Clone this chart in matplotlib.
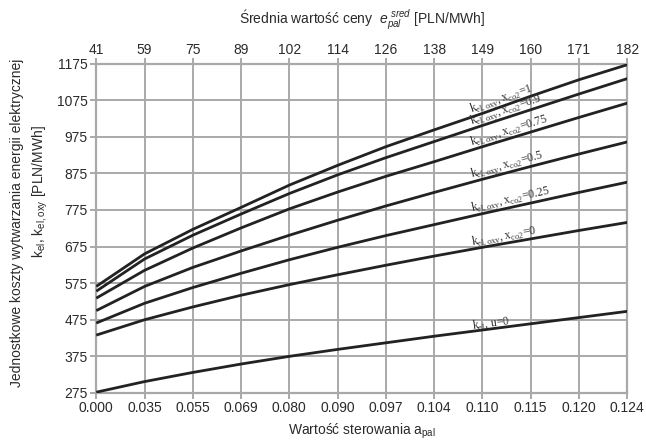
import matplotlib
matplotlib.use("Agg")
import matplotlib.pyplot as plt
import numpy as np

# sterowanie a_pal (kategorie osi dolnej) i odpowiadajace ceny (os gorna)
a_pal = ["0.000", "0.035", "0.055", "0.069", "0.080", "0.090",
         "0.097", "0.104", "0.110", "0.115", "0.120", "0.124"]
cena_sred = ["41", "59", "75", "89", "102", "114",
             "126", "138", "149", "160", "171", "182"]

k_oxy_x1 = [566, 655, 722, 782, 843, 897, 948, 994, 1039, 1086, 1131, 1172]
k_oxy_x09 = [553, 641, 706, 764, 820, 871, 918, 962, 1006, 1049, 1092, 1134]
k_oxy_x075 = [534, 610, 671, 726, 778, 824, 867, 907, 948, 988, 1028, 1067]
k_oxy_x05 = [500, 566, 618, 663, 706, 747, 786, 823, 859, 894, 928, 961]
k_oxy_x025 = [466, 520, 563, 602, 639, 673, 705, 735, 765, 794, 823, 851]
k_oxy_x0 = [433, 475, 510, 542, 571, 598, 624, 649, 673, 696, 719, 741]
k_el_u0 = [277, 306, 331, 354, 375, 394, 412, 430, 447, 464, 481, 498]

series = [
    (k_oxy_x1, r"k$_{\mathrm{el,oxy}}$, x$_{\mathrm{co2}}$=1"),
    (k_oxy_x09, r"k$_{\mathrm{el,oxy}}$, x$_{\mathrm{co2}}$=0.9"),
    (k_oxy_x075, r"k$_{\mathrm{el,oxy}}$, x$_{\mathrm{co2}}$=0.75"),
    (k_oxy_x05, r"k$_{\mathrm{el,oxy}}$, x$_{\mathrm{co2}}$=0.5"),
    (k_oxy_x025, r"k$_{\mathrm{el,oxy}}$, x$_{\mathrm{co2}}$=0.25"),
    (k_oxy_x0, r"k$_{\mathrm{el,oxy}}$, x$_{\mathrm{co2}}$=0"),
    (k_el_u0, r"k$_{\mathrm{el}}$, u=0"),
]

y_ticks = list(range(275, 1176, 100))

plt.rcParams["font.family"] = ["Liberation Sans", "DejaVu Sans"]
plt.rcParams["mathtext.fontset"] = "custom"
plt.rcParams["mathtext.rm"] = "Liberation Serif"
plt.rcParams["mathtext.it"] = "Liberation Sans:italic"
plt.rcParams["mathtext.sf"] = "Liberation Sans"

GRID = "#a9a9a9"
TXT = "#2a2a2a"

fig = plt.figure(figsize=(6.46, 4.45), dpi=100)
ax = fig.add_axes([0.149, 0.117, 0.822, 0.740])

x = np.arange(len(a_pal))
for values, _ in series:
    ax.plot(x, values, color="#222222", lw=2.0, solid_capstyle="butt", zorder=3)

ax.set_xlim(0, len(a_pal) - 1)
ax.set_ylim(275, 1175)
ax.set_xticks(x)
ax.set_xticklabels(a_pal)
ax.set_yticks(y_ticks)
ax.grid(True, color=GRID, lw=1.4)
ax.set_axisbelow(True)
for sp in ax.spines.values():
    sp.set_color(GRID)
    sp.set_linewidth(1.6)
ax.tick_params(colors=GRID, labelcolor=TXT, labelsize=10, length=4, width=1.4, pad=2)

top = ax.twiny()
top.set_xlim(ax.get_xlim())
top.set_xticks(x)
top.set_xticklabels(cena_sred)
top.tick_params(colors=GRID, labelcolor=TXT, labelsize=10, length=4, width=1.4, pad=1)
for sp in top.spines.values():
    sp.set_visible(False)

# opisy osi
cx = 0.149 + 0.822 / 2
fig.text(cx, 0.958, r"Średnia wartość ceny  $e_{pal}^{\ sred}$ [PLN/MWh]",
         ha="center", va="center", fontsize=10, color=TXT)
fig.text(cx, 0.03, r"Wartość sterowania a$_{\mathsf{pal}}$",
         ha="center", va="center", fontsize=10, color=TXT)
fig.text(0.027, 0.50, "Jednostkowe koszty wytwarzania energii elektrycznej",
         rotation=90, ha="center", va="center", fontsize=10, color=TXT)
fig.text(0.062, 0.57, r"k$_{\mathsf{el}}$, k$_{\mathsf{el,oxy}}$ [PLN/MWh]",
         rotation=90, ha="center", va="center", fontsize=10, color=TXT)

# opisy krzywych ulozone wzdluz linii
fig.canvas.draw()
x_lab = 7.8
for values, label in series:
    y0 = np.interp(x_lab, x, values)
    p1 = ax.transData.transform((x_lab - 0.5, np.interp(x_lab - 0.5, x, values)))
    p2 = ax.transData.transform((x_lab + 0.5, np.interp(x_lab + 0.5, x, values)))
    ang = np.degrees(np.arctan2(p2[1] - p1[1], p2[0] - p1[0]))
    ax.text(x_lab, y0 - 4, label, rotation=ang, rotation_mode="anchor",
            ha="left", va="bottom", fontsize=8.5, color="#333333", zorder=4,
            family=["Liberation Serif", "DejaVu Serif"])

fig.savefig("out.png", dpi=100)
